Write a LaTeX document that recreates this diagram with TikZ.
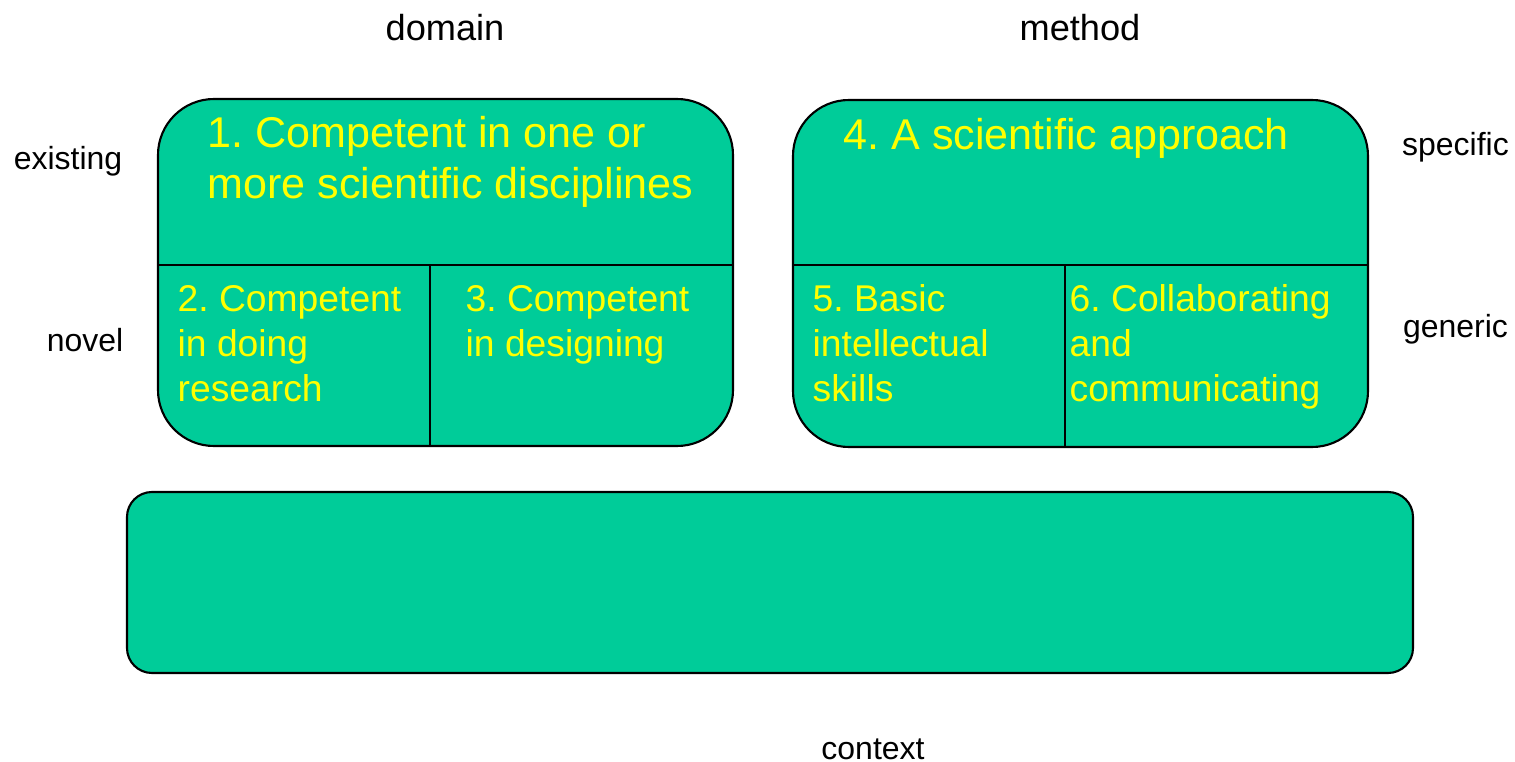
\documentclass[tikz,border=0pt]{standalone}
\usepackage{fontspec}
\setmainfont{Liberation Sans}
\usetikzlibrary{positioning}
\definecolor{boxgreen}{RGB}{0,204,153}
\definecolor{boxyellow}{RGB}{255,255,0}
\frenchspacing
\newcommand{\tikzSplitBox}[6]{
% #1 = left, #2 = top, #3 = right, #4 = bottom, #5 = split x, #6 = split y
\draw[cellbox] (#1,#2) rectangle (#3,#4);
\draw[divider] (#1,#6) -- (#3,#6);
\draw[divider] (#5,#6) -- (#5,#4);
}

\begin{document}
\begin{tikzpicture}[
    cellbox/.style={fill=boxgreen, draw=black, line width=0.6pt, rounded corners=0.56cm},
    divider/.style={draw=black, line width=0.6pt},
    bigtext/.style={text=boxyellow, inner sep=0pt, anchor=north west, align=left,
        font=\fontsize{12.25}{14.5}\selectfont},
    smalltext/.style={text=boxyellow, inner sep=0pt, anchor=north west, align=left,
        font=\fontsize{10.6}{12.8}\selectfont},
    axislabel/.style={inner sep=0pt, anchor=base, font=\fontsize{10.3}{12}\selectfont},
    sidelabel/.style={inner sep=0pt, anchor=base, font=\fontsize{9.1}{11}\selectfont}]

    \useasboundingbox (0,0) rectangle (15.15,-7.62);

    % the two split boxes:
    \tikzSplitBox{1.58}{-0.99}{7.33}{-4.46}{4.30}{-2.65}
    \tikzSplitBox{7.93}{-1.00}{13.68}{-4.47}{10.65}{-2.65}

    % the long box at the bottom:
    \draw[cellbox, rounded corners=0.25cm] (1.27,-4.92) rectangle (14.13,-6.73);

    % texts in the boxes:
    \node[bigtext] (comp1) at (2.07,-1.16) {1. Competent in one or\\more scientific disciplines};
    \node[smalltext] (comp2) at (1.77,-2.85) {2. Competent\\in doing\\research};
    \node[smalltext] (comp3) at (4.65,-2.85) {3. Competent\\in designing};
    \node[bigtext] (comp4) at (8.43,-1.18) {4. A scientific approach};
    \node[smalltext] (comp5) at (8.12,-2.84) {5. Basic\\intellectual\\skills};
    \node[smalltext] (comp6) at (10.69,-2.84) {6. Collaborating\\and\\communicating};

    % labels round the boxes:
    \node[axislabel] (domain) at (4.45,-0.40) {domain};
    \node[axislabel] (method) at (10.80,-0.40) {method};
    \node[sidelabel] (existing) at (0.68,-1.70) {existing};
    \node[sidelabel] (novel) at (0.85,-3.51) {novel};
    \node[sidelabel] (specific) at (14.555,-1.55) {specific};
    \node[sidelabel] (generic) at (14.555,-3.37) {generic};
    \node[sidelabel] (context) at (8.73,-7.59) {context};

\end{tikzpicture}
\end{document}
